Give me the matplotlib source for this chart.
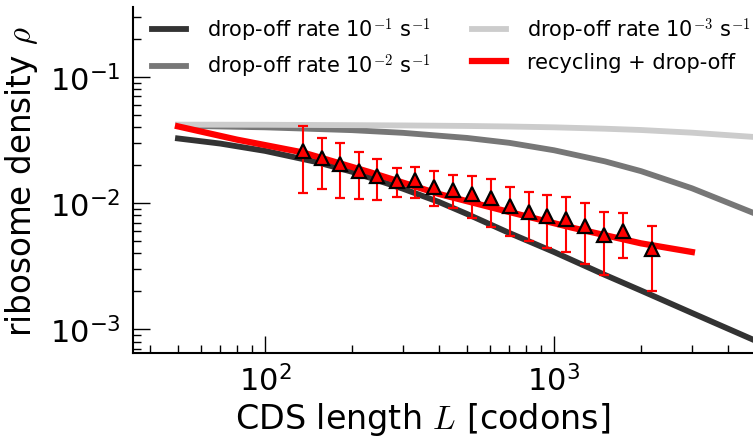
import numpy as np
import matplotlib
matplotlib.use('Agg')
from matplotlib import pyplot as plt
from matplotlib.ticker import LogLocator, FuncFormatter, NullFormatter

plt.rcParams['mathtext.fontset'] = 'cm'

# model curves
L_dark = [50, 70, 100, 150, 200, 300, 400, 500, 700, 1000, 1500, 2000, 3000, 5000]
rho_dark = [0.0325, 0.0296, 0.0259, 0.0212, 0.0177, 0.0130, 0.0102, 0.0082,
            0.0058, 0.0041, 0.0027, 0.00203, 0.00135, 0.00081]

L_grid = [50, 100, 200, 300, 500, 700, 1000, 1500, 2000, 3000, 5000]
rho_mid = [0.0410, 0.0398, 0.0378, 0.0360, 0.0328, 0.0300, 0.0262, 0.0214,
           0.0179, 0.0131, 0.0082]
rho_light = [0.0418, 0.0417, 0.0414, 0.0412, 0.0408, 0.0404, 0.0398, 0.0388,
             0.0379, 0.0361, 0.0333]

L_red = [50, 80, 135, 230, 400, 700, 1150, 2000, 3000]
rho_red = [0.0405, 0.0318, 0.0252, 0.0176, 0.0118, 0.0085, 0.0064, 0.0048, 0.0041]

# binned data with error bars
L_data = [135, 157, 182, 211, 245, 286, 331, 385, 448, 521, 605, 704, 817, 948,
          1100, 1280, 1486, 1733, 2188]
rho_data = [0.0260, 0.0226, 0.0203, 0.0178, 0.0163, 0.0150, 0.0152, 0.0135, 0.0127,
            0.0118, 0.0109, 0.0094, 0.0085, 0.0079, 0.0075, 0.0066, 0.0056, 0.0060, 0.0043]
rho_hi = [0.0409, 0.0327, 0.0300, 0.0253, 0.0224, 0.0189, 0.0193, 0.0179, 0.0166,
          0.0163, 0.0155, 0.0134, 0.0123, 0.0115, 0.0111, 0.0100, 0.0085, 0.0083, 0.0066]
rho_lo = [0.0120, 0.0129, 0.0110, 0.0107, 0.0105, 0.0112, 0.0109, 0.0094, 0.0091,
          0.0076, 0.0065, 0.0055, 0.0050, 0.0044, 0.0041, 0.0033, 0.0027, 0.0037, 0.0020]

labels = [r'drop-off rate 10$^{-1}$ s$^{-1}$',
          r'drop-off rate 10$^{-2}$ s$^{-1}$',
          r'drop-off rate 10$^{-3}$ s$^{-1}$',
          'recycling + drop-off']

fig = plt.figure(figsize=(7.53, 4.39), dpi=100)
ax = fig.add_axes([0.1769, 0.1936, 0.8271, 0.7875])

ax.plot(L_dark, rho_dark, color='#333333', lw=4.2, label=labels[0])
ax.plot(L_grid, rho_mid, color='#777777', lw=4.2, label=labels[1])
ax.plot(L_grid, rho_light, color='#cccccc', lw=4.2, label=labels[2])
ax.plot(L_red, rho_red, color='red', lw=4.5, label=labels[3])

rho = np.array(rho_data)
yerr = [rho - np.array(rho_lo), np.array(rho_hi) - rho]
ax.errorbar(L_data, rho_data, yerr=yerr, fmt='^', color='red', ecolor='red',
            elinewidth=1.5, capsize=3.5, capthick=1.5, ms=9.5, mfc='red',
            mec='black', mew=1.6, zorder=5)

ax.set_xscale('log')
ax.set_yscale('log')
ax.set_xlim(35, 5000)
ax.set_ylim(6.5e-4, 0.355)

fmt = FuncFormatter(lambda v, p: r'$\mathregular{10^{%d}}$' % round(np.log10(v)))
ax.xaxis.set_major_formatter(fmt)
ax.yaxis.set_major_formatter(fmt)
ax.xaxis.set_minor_formatter(NullFormatter())
ax.yaxis.set_minor_formatter(NullFormatter())
ax.xaxis.set_minor_locator(LogLocator(base=10, subs=np.arange(2, 10)))
ax.yaxis.set_minor_locator(LogLocator(base=10, subs=np.arange(2, 10)))

for s in ['top', 'right']:
    ax.spines[s].set_visible(False)
for s in ['left', 'bottom']:
    ax.spines[s].set_linewidth(1.5)
ax.tick_params(which='both', direction='in', top=False, right=False, labelsize=22)
ax.tick_params(which='major', length=12, width=1)
ax.tick_params(which='minor', length=6, width=1)
ax.tick_params(axis='x', pad=8)
ax.tick_params(axis='y', pad=9)

ax.set_xlabel(r'CDS length $L$ [codons]', fontsize=24)
ax.set_ylabel(r'ribosome density $\rho$', fontsize=23.5)
ax.xaxis.set_label_coords(0.465, -0.135)
ax.yaxis.set_label_coords(-0.149, 0.5)

ax.legend(ncol=2, frameon=False, fontsize=15, loc='upper left',
          bbox_to_anchor=(0.0, 1.03), handlelength=1.63, handletextpad=1.0,
          columnspacing=2.0, labelspacing=0.4)

fig.savefig('out.png', dpi=100)
